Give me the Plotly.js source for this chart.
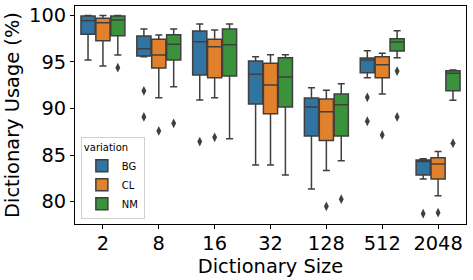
<!DOCTYPE html>
<html><head><meta charset="utf-8">
<script src="https://cdn.plot.ly/plotly-3.0.1.min.js"></script>
<style>html,body{margin:0;padding:0;background:#fff}</style>
</head><body><div id="chart" style="width:473px;height:280px"></div>
<script>
const sizes = ['2','8','16','32','128','512','2048'];
const hues = ['BG','CL','NM'];
const colors = {BG:'#3274a1', CL:'#e1812c', NM:'#3a923a'};

// precomputed box statistics per hue, one value per dictionary size
const BG_low  = [95.2, 95.56, 90.9, 83.94, 81.36, 93.3, 82.43];
const BG_q1   = [97.96, 95.63, 93.6, 90.48, 87.05, 93.84, 82.86];
const BG_med  = [99.42, 96.42, 97.15, 93.67, 90.16, 95.2, 84.3];
const BG_q3   = [99.92, 97.78, 98.32, 95.1, 91.13, 95.42, 84.47];
const BG_high = [99.98, 98.53, 99.07, 95.56, 92.23, 96.2, 84.61];

const CL_low  = [94.56, 91.16, 91.16, 83.94, 83.33, 91.56, 80.64];
const CL_q1   = [97.27, 94.35, 93.3, 89.44, 86.55, 93.3, 82.43];
const CL_med  = [99.2, 95.74, 96.63, 92.52, 89.66, 94.7, 84.05];
const CL_q3   = [99.68, 97.42, 97.42, 94.85, 91.02, 95.56, 84.72];
const CL_high = [99.98, 97.89, 98.42, 95.77, 91.95, 95.92, 85.37];

const NM_low  = [95.74, 92.34, 86.76, 82.87, 84.4, 95.45, 90.88];
const NM_q1   = [97.8, 95.2, 93.49, 90.16, 87.05, 96.17, 91.91];
const NM_med  = [99.5, 96.89, 96.85, 93.38, 90.41, 97.14, 93.78];
const NM_q3   = [99.92, 97.92, 98.53, 95.45, 91.56, 97.49, 94.06];
const NM_high = [99.98, 98.53, 99.07, 95.77, 92.66, 98.35, 94.13];

// outliers (x category, y value)
const BG_out_x = ['8','8','16','512','512','2048'];
const BG_out_y = [91.9, 89.09, 86.45, 91.2, 88.63, 78.71];
const CL_out_x = ['8','16','128','512','2048'];
const CL_out_y = [87.59, 86.9, 79.5, 87.16, 78.82];
const NM_out_x = ['2','8','128','512','512','2048'];
const NM_out_y = [94.38, 88.41, 80.26, 94.02, 89.09, 86.27];

const stats = {
  BG:{low:BG_low,q1:BG_q1,med:BG_med,q3:BG_q3,high:BG_high,ox:BG_out_x,oy:BG_out_y},
  CL:{low:CL_low,q1:CL_q1,med:CL_med,q3:CL_q3,high:CL_high,ox:CL_out_x,oy:CL_out_y},
  NM:{low:NM_low,q1:NM_q1,med:NM_med,q3:NM_q3,high:NM_high,ox:NM_out_x,oy:NM_out_y}
};
const edge = '#3f3f3f';
const traces = [];
hues.forEach(h => {
  const s = stats[h];
  traces.push({
    type:'box', name:h, x:sizes, q1:s.q1, median:s.med, q3:s.q3,
    lowerfence:s.low, upperfence:s.high,
    offsetgroup:h, fillcolor:colors[h], line:{color:edge, width:1.5},
    whiskerwidth:0.5, boxpoints:false, hoverinfo:'skip'
  });
});
hues.forEach(h => {
  const s = stats[h];
  traces.push({
    type:'scatter', mode:'markers', x:s.ox, y:s.oy, offsetgroup:h,
    marker:{symbol:'diamond-tall', size:7, color:edge}, showlegend:false, hoverinfo:'skip'
  });
});
const F = 'DejaVu Sans';
const layout = {
  width:473, height:280,
  margin:{l:75, r:7, t:6, b:56},
  paper_bgcolor:'#fff', plot_bgcolor:'#fff',
  font:{family:F, color:'#000'},
  boxmode:'group', boxgap:0.2, boxgroupgap:0.05,
  scattermode:'group', scattergap:0.2,
  xaxis:{type:'category', categoryorder:'array', categoryarray:sizes,
    showline:true, linecolor:'#000', linewidth:1, mirror:true,
    ticks:'outside', ticklen:4, tickcolor:'#000', showgrid:false, ticklabelstandoff:-2,
    tickfont:{size:19.4}, title:{text:'Dictionary Size', font:{size:19.4}, standoff:0}},
  yaxis:{range:[77.6, 101.0], dtick:5, tick0:80,
    showline:true, linecolor:'#000', linewidth:1, mirror:true,
    ticks:'outside', ticklen:4, tickcolor:'#000', showgrid:false, zeroline:false,
    tickfont:{size:19.4}, title:{text:'Dictionary Usage (%)', font:{size:19.4}, standoff:4}},
  legend:{x:0.015, y:0.022, xanchor:'left', yanchor:'bottom',
    bgcolor:'rgba(255,255,255,0.8)', bordercolor:'#d0d0d0', borderwidth:1,
    font:{size:10}, title:{text:'variation', font:{size:10}}, tracegroupgap:0}
};
Plotly.newPlot('chart', traces, layout, {displayModeBar:false, staticPlot:true});
</script></body></html>
